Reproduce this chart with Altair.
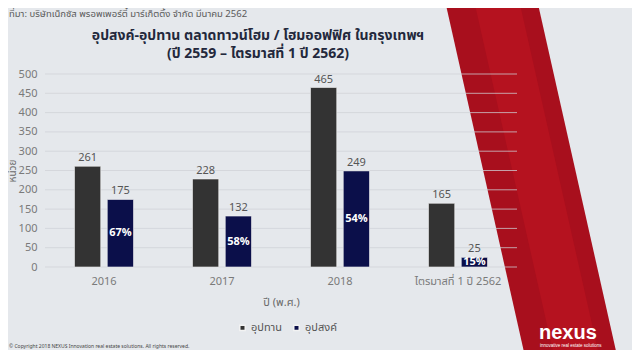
import altair as alt
import pandas as pd

categories = ["2016", "2017", "2018", "ไตรมาสที่ 1 ปี 2562"]
supply = [261, 228, 465, 165]
demand = [175, 132, 249, 25]
pct_labels = ["67%", "58%", "54%", "15%"]
series_names = ["อุปทาน", "อุปสงค์"]
series_colors = ["#333333", "#0b0f4a"]
y_ticks = [0, 50, 100, 150, 200, 250, 300, 350, 400, 450, 500]
title_lines = ["อุปสงค์-อุปทาน ตลาดทาวน์โฮม / โฮมออฟฟิศ ในกรุงเทพฯ", "(ปี 2559 – ไตรมาสที่ 1 ปี 2562)"]

FONT = "Noto Sans Thai, Noto Sans, Liberation Sans, sans-serif"
W, H = 472, 193

rows = []
for c, s, d, p in zip(categories, supply, demand, pct_labels):
    rows.append({"cat": c, "series": series_names[0], "value": s, "pct": ""})
    rows.append({"cat": c, "series": series_names[1], "value": d, "pct": p})
df = pd.DataFrame(rows)
df["mid"] = df["value"] / 2
grid_df = pd.DataFrame({"value": y_ticks})
one = pd.DataFrame({"a": [0]})

yscale = alt.Scale(domain=[0, 500], nice=False)
yaxis = alt.Axis(title="หน่วย", values=y_ticks, grid=False, domain=False, ticks=False,
                 labelOverlap=False, labelPadding=8, titleX=-28, titleY=H / 2,
                 titleAngle=270, titleBaseline="bottom", titleAlign="center",
                 labelColor="#7a7a7a", titleColor="#6a6a6a", labelFontSize=11, titleFontSize=10,
                 titleFontWeight="normal", labelFont=FONT, titleFont=FONT)
xaxis = alt.Axis(title="ปี (พ.ศ.)", labelAngle=0, domain=False, ticks=False,
                 labelPadding=8, titlePadding=10, labelColor="#7a7a7a",
                 titleColor="#6a6a6a", labelFontSize=11, titleFontSize=11,
                 titleFontWeight="normal", labelFont=FONT, titleFont=FONT)
xscale = alt.Scale(paddingInner=0.5, paddingOuter=0.25)
X = alt.X("cat:N", sort=categories, scale=xscale, axis=xaxis)
Y = alt.Y("value:Q", scale=yscale, axis=yaxis)
xoff = alt.XOffset("series:N", sort=series_names, scale=alt.Scale(paddingInner=0.2))

band = alt.Chart(one).mark_rule(color="#a80f1d", strokeWidth=90, strokeCap="butt").encode(
    x=alt.value(441.5), y=alt.value(-94), x2=alt.value(531.4), y2=alt.value(306))
band_hi = alt.Chart(one).mark_rule(color="#b5121f", strokeWidth=44, strokeCap="butt").encode(
    x=alt.value(447), y=alt.value(-94), x2=alt.value(537), y2=alt.value(306))

grid = alt.Chart(grid_df).mark_rule(color="#cfd2d7", strokeWidth=1, opacity=0.75).encode(
    y=Y, x=alt.value(0), x2=alt.value(W))

bars = alt.Chart(df).mark_bar(stroke="#f2f2f2", strokeWidth=0.6).encode(
    x=X, xOffset=xoff, y=Y,
    color=alt.Color("series:N", scale=alt.Scale(domain=series_names, range=series_colors),
                    legend=alt.Legend(title=None, orient="none", legendX=192, legendY=248,
                                      direction="horizontal", symbolType="square",
                                      symbolSize=30, labelFontSize=11, labelColor="#555555",
                                      labelFont=FONT, columnPadding=8, labelOffset=3, padding=0)),
)

vals = alt.Chart(df).mark_text(baseline="bottom", dy=-3, fontSize=11, color="#555555", font=FONT).encode(
    x=X, xOffset=xoff, y=Y, text=alt.Text("value:Q"))

pcts = alt.Chart(df[df["series"] == series_names[1]]).mark_text(
    fontSize=11, fontWeight="bold", color="white", font=FONT).encode(
    x=X, xOffset=xoff, y=alt.Y("mid:Q", scale=yscale, axis=yaxis), text="pct:N")

title1 = alt.Chart(one).mark_text(text=title_lines[0], align="center", baseline="middle",
                                  fontSize=14, fontWeight="bold", color="#23283c", font=FONT).encode(
    x=alt.value(213), y=alt.value(-38))
title2 = alt.Chart(one).mark_text(text=title_lines[1], align="center", baseline="middle",
                                  fontSize=14, fontWeight="bold", color="#23283c", font=FONT).encode(
    x=alt.value(213), y=alt.value(-20))

source = alt.Chart(one).mark_text(text="ที่มา: บริษัทเน็กซัส พรอพเพอร์ตี้ มาร์เก็ตติ้ง จำกัด มีนาคม 2562",
                                  align="left", baseline="top", fontSize=9.5, color="#5a5a5a",
                                  font=FONT).encode(x=alt.value(-36), y=alt.value(-65))

copyright_t = alt.Chart(one).mark_text(
    text="© Copyright 2018 NEXUS Innovation real estate solutions. All rights reserved.",
    align="left", baseline="bottom", fontSize=5, color="#444444", font=FONT).encode(
    x=alt.value(-36), y=alt.value(275))

logo = alt.Chart(one).mark_text(text="nexus", align="left", baseline="alphabetic", fontSize=20,
                                fontWeight="bold", color="white",
                                font="Liberation Sans, Arial, sans-serif").encode(
    x=alt.value(494), y=alt.value(265))

tag = alt.Chart(one).mark_text(text="innovative real estate solutions", align="left", baseline="top",
                               fontSize=4.5, color="white", font="Liberation Sans, sans-serif").encode(
    x=alt.value(495), y=alt.value(269))

chart = alt.layer(band, band_hi, grid, bars, vals, pcts, title1, title2, source, copyright_t,
                  logo, tag).properties(
    width=W, height=H,
    autosize=alt.AutoSizeParams(type="none"),
    padding={"left": 37, "top": 66, "right": 115, "bottom": 83},
).configure(background="#e5e8ec").configure_view(stroke=None)

chart.save("out.html", embed_options={"renderer": "svg", "actions": False})
